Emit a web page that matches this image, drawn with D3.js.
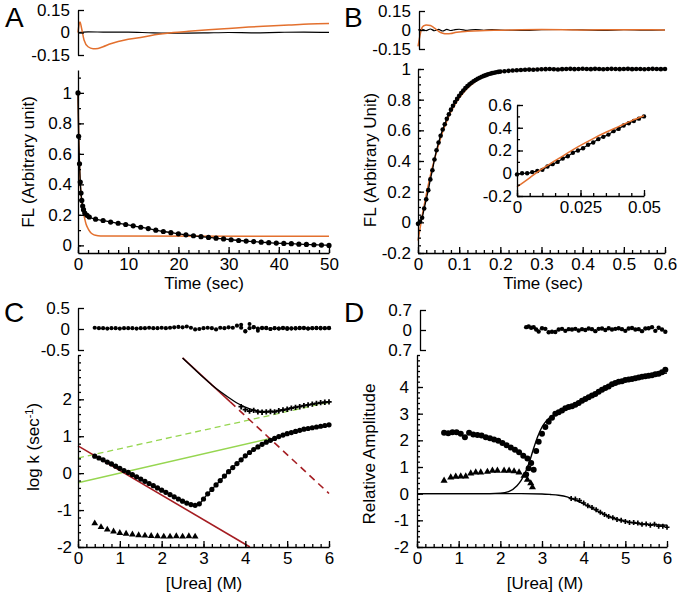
<!DOCTYPE html>
<html>
<head>
<meta charset="utf-8">
<script src="https://cdn.jsdelivr.net/npm/d3@7"></script>
<style>
body { margin: 0; background: #fff; }
svg { font-family: "Liberation Sans", Arial, Helvetica, sans-serif; }
.axis path, .axis line { stroke: #000; stroke-width: 1.3; }
.axis text { font-size: 17px; fill: #000; }
.title { font-size: 17px; fill: #000; }
.letter { font-size: 28px; fill: #000; }
</style>
</head>
<body>
<svg id="fig" width="680" height="594"></svg>
<script>
// ---------- Panel A : slow refolding trace ----------
var aDotT = [0,0.13,0.3,0.45,0.6,0.75,0.93,1.1,1.35,1.8,2.25,3.5,5,6.5,8,9.5,11,12.5,14,15.5,17,18.5,20,21.5,23,24.5,26,27.5,29,30.5,32,33.5,35,36.5,38,39.5,41,42.5,44,45.5,47,48.5,50];
var aDotFL = [1.0,0.715,0.535,0.415,0.343,0.295,0.258,0.234,0.212,0.197,0.186,0.172,0.163,0.153,0.145,0.137,0.128,0.119,0.11,0.1,0.091,0.083,0.076,0.069,0.063,0.057,0.052,0.047,0.042,0.037,0.032,0.028,0.025,0.021,0.018,0.015,0.013,0.011,0.008,0.006,0.004,0.002,0.0];
var aOrangeT = [0,0.15,0.3,0.5,0.75,1,1.3,1.6,2,2.5,3,3.5,4,5,50];
var aOrangeFL = [1.0,0.7,0.52,0.38,0.29,0.23,0.18,0.14,0.11,0.085,0.072,0.066,0.063,0.061,0.06];
var aResOrangeT = [0,0.2,0.4,0.7,1.2,2,3,4,5,6.5,8,10,13,16,19,22,26,30,34,38,42,46,50];
var aResOrange = [0,0.05,0.07,0.03,-0.05,-0.095,-0.108,-0.106,-0.095,-0.075,-0.06,-0.045,-0.03,-0.012,0,0.008,0.018,0.027,0.036,0.043,0.05,0.057,0.06];
var aResBlackT = [0,2,5,10,15,20,25,30,35,40,45,50];
var aResBlack = [0,0.004,0.003,0.002,-0.002,-0.004,-0.003,0,-0.002,0.001,0.003,0.001];

// ---------- Panel B : fast refolding trace ----------
var bDotT = [0,0.005,0.01,0.015,0.02,0.025,0.03,0.035,0.04,0.045,0.05,0.055,0.06,0.065,0.07,0.075,0.08,0.085,0.09,0.095,0.1,0.105,0.11,0.115,0.12,0.125,0.13,0.135,0.14,0.145,0.15,0.155,0.16,0.165,0.17,0.175,0.18,0.185,0.19,0.195,0.2,
  0.21,0.22,0.23,0.24,0.25,0.26,0.27,0.28,0.29,0.3,0.31,0.32,0.33,0.34,0.35,0.36,0.37,0.38,0.39,0.4,0.41,0.42,0.43,0.44,0.45,0.46,0.47,0.48,0.49,0.5,0.51,0.52,0.53,0.54,0.55,0.56,0.57,0.58,0.59,0.6];
var bDotFL = [-0.01,0.005,0.03,0.09,0.15,0.21,0.28,0.34,0.41,0.47,0.52,0.565,0.605,0.64,0.675,0.705,0.735,0.76,0.785,0.805,0.825,0.843,0.86,0.875,0.888,0.9,0.91,0.92,0.928,0.936,0.943,0.949,0.955,0.96,0.965,0.969,0.973,0.976,0.979,0.981,0.983,
  0.985,0.988,0.99,0.992,0.993,0.995,0.996,0.995,0.997,0.998,0.999,1.0,0.998,0.997,0.999,1.0,1.001,0.999,1.0,1.002,1.0,0.999,1.001,1.0,0.998,1.0,1.001,1.0,0.999,1.0,1.001,0.999,1.0,1.0,0.998,1.0,1.001,1.0,0.999,1.0];
var bOrangeT = [0,0.005,0.01,0.015,0.02,0.03,0.04,0.05,0.06,0.07,0.08,0.09,0.1,0.12,0.14,0.16,0.18,0.2,0.25,0.3,0.4,0.6];
var bOrangeFL = [-0.12,-0.04,0.04,0.11,0.18,0.305,0.41,0.505,0.59,0.66,0.72,0.77,0.81,0.875,0.92,0.95,0.968,0.98,0.994,0.998,1.0,1.0];
var bResBlackT = [0,0.01,0.02,0.03,0.04,0.05,0.06,0.07,0.08,0.09,0.1,0.12,0.14,0.16,0.18,0.2,0.25,0.3,0.35,0.4,0.45,0.5,0.55,0.6];
var bResBlack = [0,0.006,-0.005,0.008,-0.006,0.005,-0.008,0.005,-0.004,0.003,0.006,-0.003,0.004,-0.002,0.003,0,-0.003,0.002,0.004,0.001,-0.003,0.002,-0.002,0];
var bResOrangeT = [0,0.005,0.01,0.015,0.02,0.03,0.04,0.05,0.06,0.07,0.08,0.09,0.1,0.12,0.15,0.2,0.3,0.4,0.5,0.6];
var bResOrange = [-0.13,-0.04,0.02,0.035,0.04,0.035,0.015,-0.01,-0.025,-0.03,-0.028,-0.02,-0.015,-0.01,-0.005,-0.002,0.003,0,0.002,0];
var insT = [0,0.002,0.004,0.006,0.008,0.01,0.012,0.014,0.016,0.018,0.02,0.022,0.024,0.026,0.028,0.03,0.032,0.034,0.036,0.038,0.04,0.042,0.044,0.046,0.048,0.05];
var insFL = [-0.01,0,0,0.01,0.02,0.03,0.06,0.08,0.1,0.13,0.15,0.18,0.2,0.22,0.25,0.27,0.3,0.32,0.34,0.37,0.39,0.42,0.44,0.46,0.48,0.5];
var insOrangeT = [0,0.005,0.01,0.015,0.02,0.025,0.03,0.035,0.04,0.045,0.05];
var insOrange = [-0.12,-0.04,0.04,0.11,0.18,0.245,0.305,0.36,0.41,0.46,0.505];

// ---------- Panel C : chevron plot ----------
var cUrea = [0.4,0.5,0.6,0.7,0.8,0.9,1.0,1.1,1.2,1.3,1.4,1.5,1.6,1.7,1.8,1.9,2.0,2.1,2.2,2.3,2.4,2.5,2.6,2.7,2.8,2.9,3.0,3.1,3.2,3.3,3.4,3.5,3.6,3.7,3.8,3.9,4.0,4.1,4.2,4.3,4.4,4.5,4.6,4.7,4.8,4.9,5.0,5.1,5.2,5.3,5.4,5.5,5.6,5.7,5.8,5.9,6.0];
var cFast = [0.46,0.41,0.36,0.3,0.25,0.19,0.13,0.07,0.02,-0.04,-0.1,-0.16,-0.22,-0.28,-0.34,-0.4,-0.46,-0.52,-0.58,-0.64,-0.7,-0.76,-0.81,-0.85,-0.87,-0.83,-0.7,-0.56,-0.44,-0.32,-0.2,-0.08,0.04,0.15,0.26,0.36,0.47,0.56,0.64,0.71,0.78,0.84,0.89,0.94,0.99,1.03,1.07,1.1,1.13,1.16,1.19,1.21,1.23,1.25,1.27,1.29,1.31];
var cFastRes = [0.03,0.02,0.02,0.01,0.02,0.02,0.01,0.02,0.02,0.02,0.01,0.02,0.02,0.03,0.02,0.02,0.03,0.02,0.03,0.04,0.05,0.04,0.06,0.03,-0.01,0.0,0.02,0.03,0.02,-0.01,0.03,0.02,0.04,0.03,0.08,0.03,-0.05,0.02,0.04,0.01,0.03,0.02,0.0,0.02,0.01,0.02,0.02,0.01,0.02,0.02,0.03,0.01,0.02,0.02,0.03,0.02,0.02];
var cUpperT = [3.9,4.0,4.1,4.2,4.3,4.4,4.5,4.6,4.7,4.8,4.9,5.0,5.1,5.2,5.3,5.4,5.5,5.6,5.7,5.8,5.9,6.0];
var cUpper = [1.8,1.72,1.68,1.7,1.66,1.65,1.66,1.67,1.66,1.69,1.71,1.73,1.76,1.78,1.8,1.83,1.85,1.87,1.89,1.91,1.92,1.93];
var cUpperRes = [0.1,-0.06,0.12,0.05,-0.04,0.02,0.03,0.0,0.02,0.01,0.03,0.0,0.02,0.01,0.03,0.02,0.01,0.02,0.03,0.01,0.02,0.03];
var cFitT = [2.5,2.8,3.0,3.2,3.4,3.6,3.8,4.0,4.2,4.4,4.6,4.8,5.0,5.2,5.4,5.6,5.8,6.0];
var cFit = [3.12,2.8,2.59,2.39,2.21,2.05,1.9,1.79,1.71,1.67,1.67,1.7,1.74,1.79,1.83,1.87,1.9,1.93];
var cSlowT = [0.4,0.55,0.7,0.85,1.0,1.15,1.3,1.45,1.6,1.75,1.9,2.05,2.2,2.35,2.5,2.65,2.8];
var cSlow = [-1.36,-1.46,-1.53,-1.58,-1.62,-1.64,-1.66,-1.68,-1.69,-1.7,-1.71,-1.72,-1.72,-1.71,-1.72,-1.71,-1.72];
var redFoldX = [0, 4.11], redFoldY = [0.74, -2];
var redUnfSolidX = [2.5, 3.64], redUnfSolidY = [3.12, 1.93];
var redUnfDashX = [3.64, 6], redUnfDashY = [1.93, -0.55];
var greenSolidX = [0, 4.6], greenSolidY = [-0.26, 0.94];
var greenDashX = [0, 6], greenDashY = [0.41, 1.92];

// ---------- Panel D : amplitudes ----------
var dSlowCT = [0.65,0.75,0.85,0.95,1.05,1.15,1.25,1.35,1.45,1.55,1.65,1.75,1.85,1.95,2.05,2.15,2.25,2.35,2.45,2.55,2.65];
var dSlowC = [2.28,2.27,2.3,2.3,2.25,2.12,2.28,2.22,2.2,2.18,2.12,2.08,2.03,1.98,1.9,1.82,1.73,1.65,1.55,1.42,1.32];
var dFastCT = [2.62,2.68,2.74,2.8,2.86,2.92,3.0,3.08,3.16,3.24,3.32,3.4,3.48,3.56,3.64,3.72,3.8,3.88,3.96,4.04,4.12,4.2,4.28,4.36,4.44,4.52,4.6,4.68,4.76,4.84,4.92,5.0,5.08,5.16,5.24,5.32,5.4,5.48,5.56,5.64,5.72,5.8,5.88,5.96];
var dFastC = [0.72,0.95,1.15,0.9,1.6,1.95,2.25,2.5,2.7,2.85,3.0,3.05,3.12,3.2,3.25,3.28,3.33,3.4,3.48,3.55,3.62,3.68,3.74,3.82,3.9,3.96,4.02,4.1,4.15,4.2,4.22,4.26,4.28,4.3,4.33,4.36,4.38,4.4,4.42,4.44,4.48,4.5,4.55,4.65];
var dFastRes = [0.1,0.12,0.08,0.1,0.02,-0.05,0.06,0.04,-0.08,-0.06,-0.07,0.02,0.04,-0.03,0.03,0.02,0.04,-0.02,0.03,0.0,0.05,0.03,-0.04,0.04,0.05,0.0,0.06,0.02,0.04,0.06,0.03,-0.03,0.05,0.07,0.02,0.03,-0.04,0.05,0.06,0.1,-0.03,0.08,0.02,-0.06];
var dFitUpT = [0,1.5,2.0,2.2,2.4,2.5,2.6,2.7,2.8,2.9,3.0,3.1,3.2,3.3,3.4,3.6,3.8,4.0,4.2,4.4,4.6,4.8,5.0,5.2,5.4,5.6,5.8,6.0];
var dFitUp = [0,0,0.02,0.08,0.3,0.5,0.8,1.2,1.7,2.15,2.5,2.72,2.87,2.97,3.05,3.2,3.35,3.5,3.67,3.85,4.0,4.14,4.25,4.32,4.38,4.43,4.48,4.52];
var dFitDownT = [0,2.5,3.0,3.2,3.4,3.6,3.8,4.0,4.2,4.4,4.6,4.8,5.0,5.2,5.4,5.6,5.8,6.0];
var dFitDown = [0,0,-0.01,-0.03,-0.06,-0.12,-0.24,-0.38,-0.54,-0.7,-0.85,-0.96,-1.04,-1.1,-1.14,-1.16,-1.17,-1.18];
var dUnfT = [3.7,3.8,3.9,4.0,4.1,4.2,4.3,4.4,4.5,4.6,4.7,4.8,4.9,5.0,5.1,5.2,5.3,5.4,5.5,5.6,5.7,5.8,5.9,6.0];
var dUnf = [-0.18,-0.2,-0.26,-0.35,-0.45,-0.52,-0.6,-0.7,-0.78,-0.86,-0.9,-0.97,-1.0,-1.04,-1.08,-1.08,-1.1,-1.15,-1.14,-1.18,-1.15,-1.22,-1.22,-1.26];
var dTriT = [0.65,0.81,0.93,1.05,1.17,1.29,1.41,1.53,1.69,1.81,1.93,2.09,2.21,2.33,2.45,2.57,2.65,2.73,2.77];
var dTri = [0.49,0.61,0.64,0.65,0.65,0.76,0.8,0.8,0.82,0.86,0.86,0.86,0.86,0.84,0.8,0.67,0.52,0.39,0.24];

// ---------- tick labels ----------
var resA = [-0.15, 0, 0.15], resALabels = ["-0.15", "0", "0.15"];
var flATicks = [0, 0.2, 0.4, 0.6, 0.8, 1], flALabels = ["0", "0.2", "0.4", "0.6", "0.8", "1"];
var timeATicks = [0, 10, 20, 30, 40, 50], timeALabels = ["0", "10", "20", "30", "40", "50"];
var flBTicks = [-0.2, 0, 0.2, 0.4, 0.6, 0.8, 1], flBLabels = ["-0.2", "0", "0.2", "0.4", "0.6", "0.8", "1"];
var timeBTicks = [0, 0.1, 0.2, 0.3, 0.4, 0.5, 0.6], timeBLabels = ["0", "0.1", "0.2", "0.3", "0.4", "0.5", "0.6"];
var insYTicks = [-0.2, 0, 0.2, 0.4, 0.6], insYLabels = ["-0.2", "0", "0.2", "0.4", "0.6"];
var insXTicks = [0, 0.025, 0.05], insXLabels = ["0", "0.025", "0.05"];
var resC = [-0.5, 0, 0.5], resCLabels = ["-0.5", "0", "0.5"];
var logkTicks = [-2, -1, 0, 1, 2], logkLabels = ["-2", "-1", "0", "1", "2"];
var ureaTicks = [0, 1, 2, 3, 4, 5, 6], ureaLabels = ["0", "1", "2", "3", "4", "5", "6"];
var resD = [-0.7, 0, 0.7], resDLabels = ["0.7", "0", "0.7"];
var ampTicks = [-2, -1, 0, 1, 2, 3, 4], ampLabels = ["-2", "-1", "0", "1", "2", "3", "4"];

var orange = "#e3702e", red = "#a51d22", green = "#96d650";
var svg = d3.select("#fig");

function minorRange(lo, hi, step) {
	return d3.range(Math.round((hi - lo) / step) + 1).map(function(i) { return lo + i * step; });
}

function leftAxis(scale, x, ticks, labels, minor, pad) {
	var g = svg.append("g").attr("class", "axis").attr("transform", "translate(" + x + ",0)");
	if (minor) {
		g.append("g").call(d3.axisLeft(scale).tickValues(minor).tickSize(-3).tickFormat(""))
			.select(".domain").remove();
	}
	g.append("g").call(d3.axisLeft(scale).tickValues(ticks).tickSize(-6).tickSizeOuter(0)
		.tickPadding(pad).tickFormat(function(d, i) { return labels[i]; }));
}

function bottomAxis(scale, y, ticks, labels, minor, pad) {
	var g = svg.append("g").attr("class", "axis").attr("transform", "translate(0," + y + ")");
	if (minor) {
		g.append("g").call(d3.axisBottom(scale).tickValues(minor).tickSize(-3).tickFormat(""))
			.select(".domain").remove();
	}
	g.append("g").call(d3.axisBottom(scale).tickValues(ticks).tickSize(-6).tickSizeOuter(0)
		.tickPadding(pad).tickFormat(function(d, i) { return labels[i]; }));
}

function plotLine(xs, ys, sx, sy, color, w, dash) {
	var line = d3.line().curve(d3.curveMonotoneX)
		.x(function(d) { return sx(d[0]); })
		.y(function(d) { return sy(d[1]); });
	svg.append("path")
		.attr("d", line(d3.zip(xs, ys)))
		.attr("fill", "none")
		.attr("stroke", color)
		.attr("stroke-width", w)
		.attr("stroke-dasharray", dash || null);
}

function plotDots(xs, ys, sx, sy, r) {
	svg.append("g").selectAll("circle")
		.data(d3.zip(xs, ys))
		.enter().append("circle")
		.attr("cx", function(d) { return sx(d[0]); })
		.attr("cy", function(d) { return sy(d[1]); })
		.attr("r", r)
		.attr("fill", "#000");
}

function plotSymbols(xs, ys, sx, sy, type, size) {
	var sym = d3.symbol().type(type).size(size);
	svg.append("g").selectAll("path")
		.data(d3.zip(xs, ys))
		.enter().append("path")
		.attr("transform", function(d) { return "translate(" + sx(d[0]) + "," + sy(d[1]) + ")"; })
		.attr("d", sym)
		.attr("fill", "#000");
}

function yTitle(x, y, txt) {
	return svg.append("text").attr("class", "title")
		.attr("transform", "translate(" + x + "," + y + ") rotate(-90)")
		.attr("text-anchor", "middle").text(txt);
}

function xTitle(x, y, txt) {
	svg.append("text").attr("class", "title")
		.attr("x", x).attr("y", y).attr("text-anchor", "middle").text(txt);
}

function letter(x, y, txt) {
	svg.append("text").attr("class", "letter").attr("x", x).attr("y", y).text(txt);
}

// ===== Panel A =====
var xA = d3.scaleLinear().domain([0, 50]).range([78, 329]);
var yARes = d3.scaleLinear().domain([-0.15, 0.15]).range([55, 10]);
var yA = d3.scaleLinear().domain([-0.05, 1.15]).range([253, 70]);

plotLine(aResBlackT, aResBlack, xA, yARes, "#000", 1.2);
plotLine(aResOrangeT, aResOrange, xA, yARes, orange, 1.5);
leftAxis(yARes, 78, resA, resALabels, null, 8);

plotLine(aOrangeT, aOrangeFL, xA, yA, orange, 1.5);
plotLine(aDotT, aDotFL, xA, yA, "#000", 1.3);
plotDots(aDotT, aDotFL, xA, yA, 2.6);
leftAxis(yA, 78, flATicks, flALabels, minorRange(0, 1.1, 0.1), 6);
bottomAxis(xA, 253, timeATicks, timeALabels, minorRange(0, 50, 2), 5);
yTitle(34, 162, "FL (Arbitrary unit)");
xTitle(204, 289, "Time (sec)");
letter(5, 27, "A");

// ===== Panel B =====
var xB = d3.scaleLinear().domain([0, 0.6]).range([418, 665]);
var yBRes = d3.scaleLinear().domain([-0.15, 0.15]).range([49, 11]);
var yB = d3.scaleLinear().domain([-0.2, 1]).range([253, 69]);

plotLine(bResBlackT, bResBlack, xB, yBRes, "#000", 1.2);
plotLine(bResOrangeT, bResOrange, xB, yBRes, orange, 1.5);
leftAxis(yBRes, 419, resA, resALabels, null, 8);

plotLine(bOrangeT, bOrangeFL, xB, yB, orange, 1.5);
plotLine(bDotT, bDotFL, xB, yB, "#000", 1.3);
plotDots(bDotT, bDotFL, xB, yB, 2.3);
leftAxis(yB, 418, flBTicks, flBLabels, minorRange(-0.2, 1, 0.05), 7);
bottomAxis(xB, 253, timeBTicks, timeBLabels, minorRange(0, 0.6, 0.02), 5);
yTitle(376, 160, "FL (Arbitrary Unit)");
xTitle(543, 289, "Time (sec)");
letter(344, 27, "B");

// inset
var xIns = d3.scaleLinear().domain([0, 0.05]).range([517, 644]);
var yIns = d3.scaleLinear().domain([-0.2, 0.6]).range([196, 105]);
plotLine(insT, insFL, xIns, yIns, "#000", 1.2);
plotDots(insT, insFL, xIns, yIns, 2.2);
plotLine(insOrangeT, insOrange, xIns, yIns, orange, 1.5);
leftAxis(yIns, 517, insYTicks, insYLabels, minorRange(-0.2, 0.6, 0.1), 5);
bottomAxis(xIns, 196, insXTicks, insXLabels, minorRange(0, 0.05, 0.005), 5);

// ===== Panel C =====
var xC = d3.scaleLinear().domain([0, 6]).range([78, 329]);
var yCRes = d3.scaleLinear().domain([-0.5, 0.5]).range([350, 308]);
var yC = d3.scaleLinear().domain([-2, 3.2]).range([547, 355]);

plotDots(cUrea, cFastRes, xC, yCRes, 2.1);
plotDots(cUpperT, cUpperRes, xC, yCRes, 2.0);
leftAxis(yCRes, 78, resC, resCLabels, null, 8);

plotLine(greenDashX, greenDashY, xC, yC, green, 1.3, "6,4");
plotLine(greenSolidX, greenSolidY, xC, yC, green, 1.3);
plotLine(redFoldX, redFoldY, xC, yC, red, 1.6);
plotLine(redUnfSolidX, redUnfSolidY, xC, yC, red, 1.6);
plotLine(redUnfDashX, redUnfDashY, xC, yC, red, 1.6, "7,5");
plotLine(cUrea, cFast, xC, yC, "#000", 1.3);
plotLine(cFitT, cFit, xC, yC, "#000", 1.3);
plotDots(cUrea, cFast, xC, yC, 2.6);
plotSymbols(cUpperT, cUpper, xC, yC, d3.symbolCross, 16);
plotSymbols(cSlowT, cSlow, xC, yC, d3.symbolTriangle, 20);
leftAxis(yC, 78, logkTicks, logkLabels, minorRange(-2, 3.2, 0.2), 6);
bottomAxis(xC, 547, ureaTicks, ureaLabels, minorRange(0, 6, 0.2), 5);
var tC = yTitle(39, 447, "log k (sec");
tC.append("tspan").attr("dy", -6).attr("font-size", "11px").text("-1");
tC.append("tspan").attr("dy", 6).text(")");
xTitle(204, 589, "[Urea] (M)");
letter(4, 322, "C");

// ===== Panel D =====
var xD = d3.scaleLinear().domain([0, 6]).range([417, 667]);
var yDRes = d3.scaleLinear().domain([-0.7, 0.7]).range([350, 310]);
var yD = d3.scaleLinear().domain([-2, 5.2]).range([547, 355]);

plotDots(dFastCT, dFastRes, xD, yDRes, 2.2);
leftAxis(yDRes, 420, resD, resDLabels, null, 8);

plotLine(dFitUpT, dFitUp, xD, yD, "#000", 1.4);
plotLine(dFitDownT, dFitDown, xD, yD, "#000", 1.4);
plotDots(dSlowCT, dSlowC, xD, yD, 3);
plotDots(dFastCT, dFastC, xD, yD, 3);
plotSymbols(dUnfT, dUnf, xD, yD, d3.symbolCross, 14);
plotSymbols(dTriT, dTri, xD, yD, d3.symbolTriangle, 22);
leftAxis(yD, 417, ampTicks, ampLabels, minorRange(-2, 5.2, 0.2), 8);
bottomAxis(xD, 547, ureaTicks, ureaLabels, minorRange(0, 6, 0.2), 5);
yTitle(375, 454, "Relative Amplitude");
xTitle(545, 589, "[Urea] (M)");
letter(344, 322, "D");
</script>
</body>
</html>
